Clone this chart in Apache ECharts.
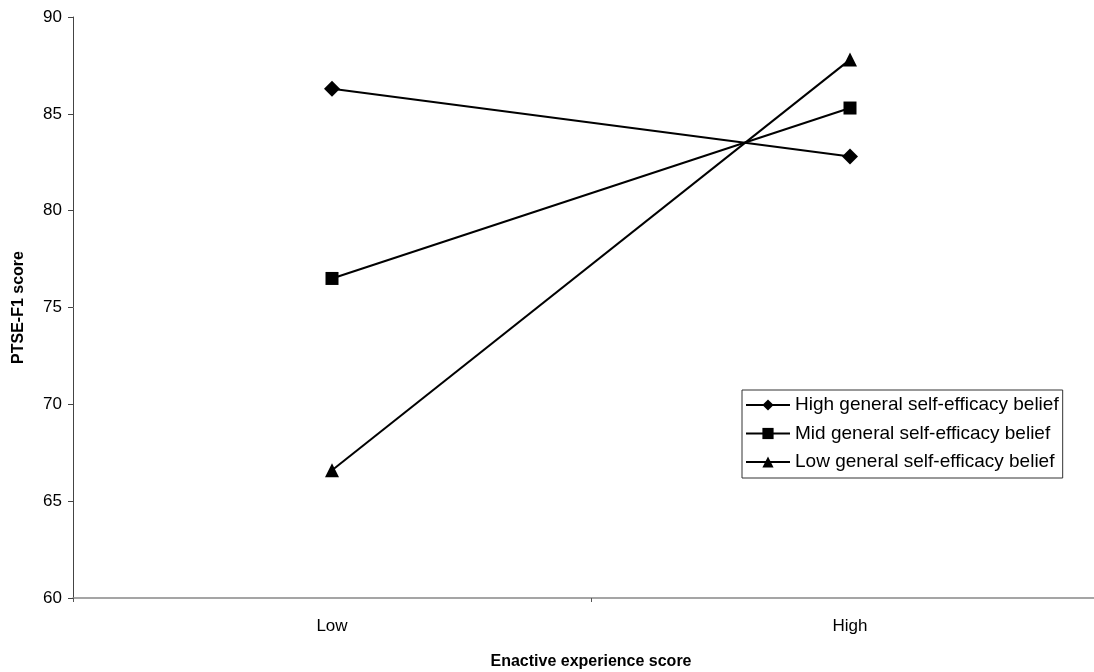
<!DOCTYPE html>
<html><head><meta charset="utf-8">
<script src="https://cdn.jsdelivr.net/npm/echarts@6/dist/echarts.min.js"></script>
<style>html,body{margin:0;padding:0;background:#fff}#c{width:1094px;height:672px}</style>
</head><body><div id="c"></div>
<script>
const categories = ['Low', 'High'];
const highGSE = [86.3, 82.8];
const midGSE = [76.5, 85.3];
const lowGSE = [66.6, 87.8];
const seriesNames = ['High general self-efficacy belief', 'Mid general self-efficacy belief', 'Low general self-efficacy belief'];
const yTicks = {min: 60, max: 90, interval: 5};

const chart = echarts.init(document.getElementById('c'));
const font = 'Liberation Sans, Arial, sans-serif';
function mk(name, data, symbol, size) {
  return {
    name, type: 'line', data, symbol, symbolSize: size,
    itemStyle: {color: '#000'}, lineStyle: {color: '#000', width: 2},
    emphasis: {disabled: true}
  };
}
chart.setOption({
  animation: false,
  grid: {left: 73, top: 17, width: 1036, bottom: 74, containLabel: false, outerBoundsMode: 'none'},
  xAxis: {
    type: 'category', data: categories, boundaryGap: true,
    name: 'Enactive experience score', nameLocation: 'middle', nameGap: 56,
    nameTextStyle: {fontFamily: font, fontSize: 16, fontWeight: 'bold', color: '#000'},
    axisLine: {lineStyle: {color: '#888', width: 1.5}},
    axisTick: {show: true, length: 4, lineStyle: {color: '#555'}},
    axisLabel: {fontFamily: font, fontSize: 17, color: '#000', margin: 20}
  },
  yAxis: {
    type: 'value', min: yTicks.min, max: yTicks.max, interval: yTicks.interval,
    name: 'PTSE-F1 score', nameLocation: 'middle', nameGap: 46, nameRotate: 90,
    nameTextStyle: {fontFamily: font, fontSize: 16, fontWeight: 'bold', color: '#000'},
    axisLine: {show: true, lineStyle: {color: '#444', width: 1}},
    axisTick: {show: true, length: 5, lineStyle: {color: '#444'}},
    splitLine: {show: false},
    axisLabel: {fontFamily: font, fontSize: 17, color: '#000', margin: 11}
  },
  legend: {
    orient: 'vertical', left: 742, top: 390, width: 320,
    data: seriesNames, itemWidth: 44, itemHeight: 14, itemGap: 8.5,
    padding: [5, 4, 6, 3],
    borderColor: '#333', borderWidth: 1,
    textStyle: {fontFamily: font, fontSize: 19, lineHeight: 20, color: '#000'}
  },
  series: [
    mk(seriesNames[0], highGSE, 'diamond', 16),
    mk(seriesNames[1], midGSE, 'rect', 13),
    mk(seriesNames[2], lowGSE, 'triangle', 14)
  ]
});
</script></body></html>
